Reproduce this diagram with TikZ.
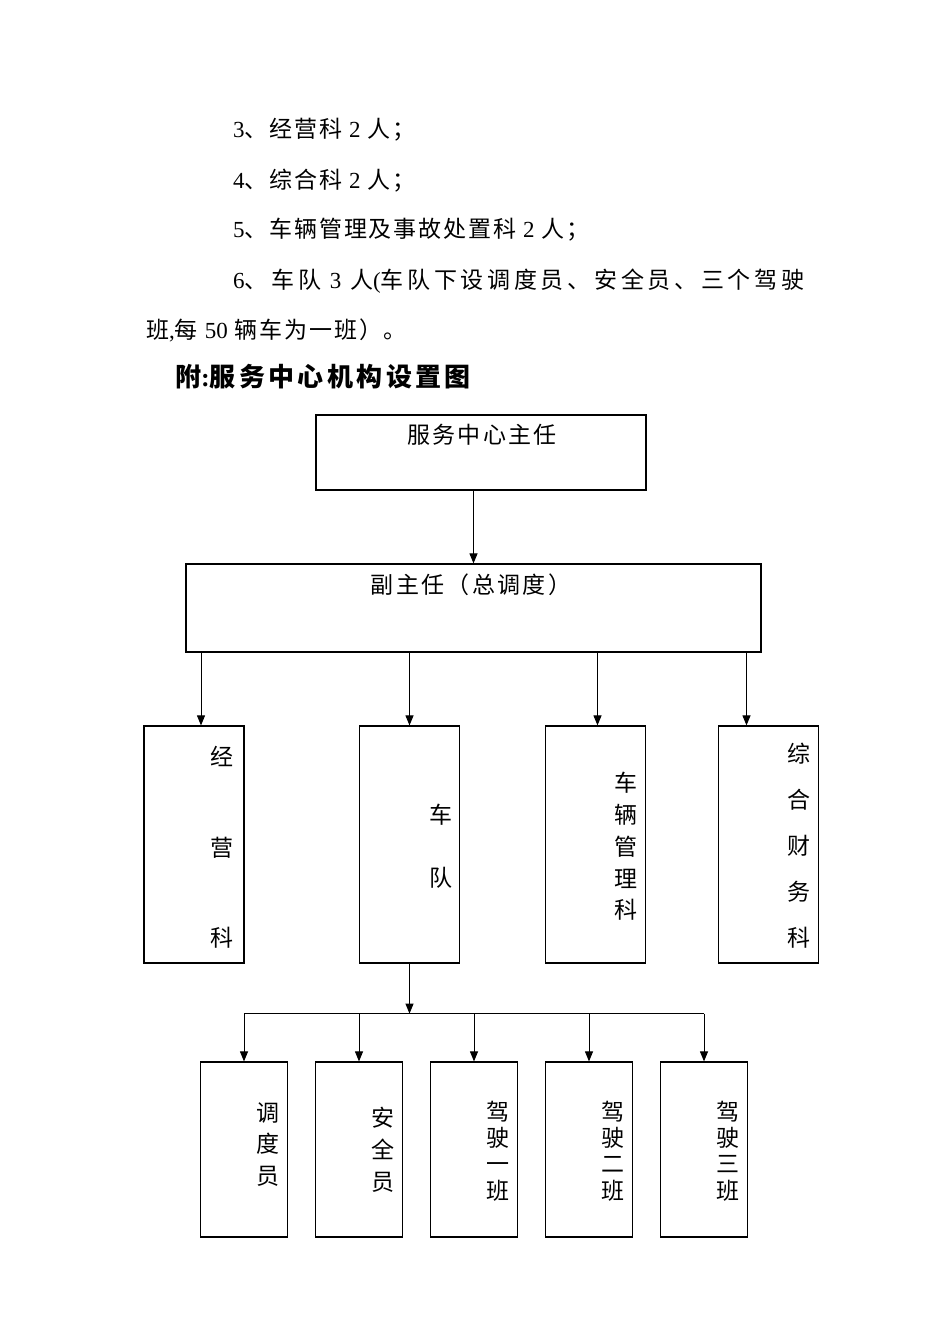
\documentclass[tikz,border=0pt]{standalone}
\usepackage{fontspec}
\setmainfont{Liberation Serif}
\newfontfamily\cjk{Noto Sans CJK SC}[LetterSpace=8]
\newfontfamily\cjkwide{Noto Sans CJK SC}[LetterSpace=16]
\newfontfamily\cjkbf{Noto Sans CJK SC}[LetterSpace=13]
\newfontfamily\cjkbox{Noto Sans CJK SC}[LetterSpace=10]
\newfontfamily\cjkcol{Noto Sans CJK SC}
\usepackage{tikz}
\usetikzlibrary{arrows.meta,positioning}
\newcommand{\dg}[1]{{\rmfamily #1}}
\tikzset{
  box/.style={draw, line width=1.2pt, rectangle, inner sep=0pt},
  dept/.style={box, minimum width=100pt, minimum height=237pt},
  team/.style={box, minimum width=87pt, minimum height=175pt},
  line/.style={draw, line width=1pt},
  arr/.style={line, -{Triangle[length=10pt,width=8pt]}},
  para/.style={anchor=west, inner sep=0pt, font=\cjk\fontsize{23pt}{27pt}\selectfont},
  lbl/.style={inner sep=0pt, font=\cjkbox\fontsize{23pt}{27pt}\selectfont},
  vlab/.style={inner sep=0pt, align=center, font=\cjkcol\fontsize{23pt}{#1}\selectfont}
}
\begin{document}
\begin{tikzpicture}[x=1pt, y=-1pt]
  \useasboundingbox (0,0) rectangle (950,1344);

  % text above the chart
  \node[para] (l3) at (233,130) {\dg{3}、经营科 \dg{2} 人；};
  \node[para] (l4) at (233,181) {\dg{4}、综合科 \dg{2} 人；};
  \node[para] (l5) at (233,230) {\dg{5}、车辆管理及事故处置科 \dg{2} 人；};
  \node[para, font=\cjkwide\fontsize{23pt}{27pt}\selectfont] (l6) at (233,281)
    {\dg{6}、车队 \dg{3} 人\dg{(}车队下设调度员、安全员、三个驾驶};
  \node[para] (l7) at (146,330) {班\dg{,}每 \dg{50} 辆车为一班）。};
  \node[para, font=\cjkbf\bfseries\fontsize{26pt}{30pt}\selectfont] (ttl) at (175,377)
    {附\dg{:}服务中心机构设置图};

  % top levels
  \node[box, minimum width=330pt, minimum height=75pt] (zr) at (481,452.5) {};
  \node[lbl] (zrt) at (482,435) {服务中心主任};
  \node[box, minimum width=575pt, minimum height=88pt] (fz) at (473.5,608) {};
  \node[lbl] (fzt) at (471,585) {副主任（总调度）};

  % departments
  \node[dept] (jy) at (194,844.5) {};
  \node[dept] (cd) at (409.5,844.5) {};
  \node[dept] (cl) at (595.5,844.5) {};
  \node[dept] (zh) at (768.5,844.5) {};
  \node[vlab=90.5pt] (jyt) at (222,847.5) {经\\营\\科};
  \node[vlab=63pt] (cdt) at (441,846.5) {车\\队};
  \node[vlab=31.75pt] (clt) at (626,846.5) {车\\辆\\管\\理\\科};
  \node[vlab=46pt] (zht) at (799,845.5) {综\\合\\财\\务\\科};

  % teams under the fleet
  \node[team] (b1) at (244,1149.5) {};
  \node[team, right=26.8pt of b1] (b2) {};
  \node[team, right=26.8pt of b2] (b3) {};
  \node[team, right=26.8pt of b3] (b4) {};
  \node[team, right=26.8pt of b4] (b5) {};
  \node[vlab=31.5pt] (b1t) at ([xshift=24pt,yshift=5pt]b1.center) {调\\度\\员};
  \node[vlab=32pt] (b2t) at ([xshift=24pt]b2.center) {安\\全\\员};
  \node[vlab=26.2pt] (b3t) at ([xshift=24pt,yshift=-1.5pt]b3.center) {驾\\驶\\一\\班};
  \node[vlab=26.2pt] (b4t) at ([xshift=24pt,yshift=-1.5pt]b4.center) {驾\\驶\\二\\班};
  \node[vlab=26.2pt] (b5t) at ([xshift=24pt,yshift=-1.5pt]b5.center) {驾\\驶\\三\\班};

  % connectors
  \draw[arr] (zr.south -| fz.north) -- (fz.north);
  \draw[arr] ([xshift=7pt]jy.north |- fz.south) -- ([xshift=7pt]jy.north);
  \draw[arr] (cd.north |- fz.south) -- (cd.north);
  \draw[arr] ([xshift=2pt]cl.north |- fz.south) -- ([xshift=2pt]cl.north);
  \draw[arr] ([xshift=-22pt]zh.north |- fz.south) -- ([xshift=-22pt]zh.north);
  \coordinate (bus) at ([yshift=-50pt]cd.south);
  \draw[arr] (cd.south) -- (bus);
  \draw[line] (b1.north |- bus) -- (b5.north |- bus);
  \foreach \b in {b1,b2,b3,b4,b5}
    \draw[arr] (\b.north |- bus) -- (\b.north);
\end{tikzpicture}
\end{document}
